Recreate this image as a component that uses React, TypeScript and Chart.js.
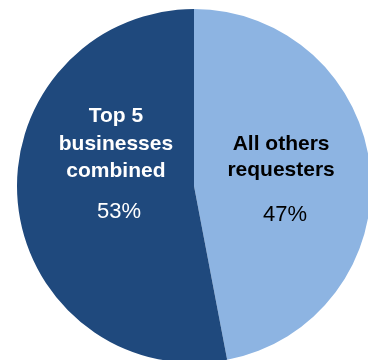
import React, { useEffect, useRef } from "react";
import { Chart, registerables } from "chart.js";

Chart.register(...registerables);

const categories = ["All others requesters", "Top 5 businesses combined"];
const labelLines = [["All others", "requesters"], ["Top 5", "businesses", "combined"]];
const values = [47, 53];
const percentLabels = ["47%", "53%"];
const colors = ["#8DB4E2", "#1F497D"];
const textColors = ["#000000", "#ffffff"];

// label placement relative to pie centre, as fractions of the radius
const labelPlacement = [
  { x: 0.492, lineYs: [-0.203, -0.056], pctX: 0.514, pctY: 0.198 },
  { x: -0.441, lineYs: [-0.363, -0.203, -0.053], pctX: -0.424, pctY: 0.181 },
];

const labelPlugin = {
  id: "sliceLabels",
  afterDatasetsDraw(chart: any) {
    const ctx = chart.ctx;
    const meta = chart.getDatasetMeta(0);
    meta.data.forEach((arc: any, i: number) => {
      const cx = arc.x;
      const cy = arc.y;
      const r = arc.outerRadius;
      const p = labelPlacement[i];
      ctx.save();
      ctx.fillStyle = textColors[i];
      ctx.textAlign = "center";
      ctx.textBaseline = "alphabetic";
      ctx.font = 'bold 21px "Liberation Sans", Arial, sans-serif';
      labelLines[i].forEach((line, j) => {
        ctx.fillText(line, cx + p.x * r, cy + p.lineYs[j] * r);
      });
      ctx.font = '22px "Liberation Sans", Arial, sans-serif';
      ctx.fillText(percentLabels[i], cx + p.pctX * r, cy + p.pctY * r);
      ctx.restore();
    });
  },
};

export default function App() {
  const ref = useRef<HTMLCanvasElement>(null);
  useEffect(() => {
    if (!ref.current) return;
    const chart = new Chart(ref.current, {
      type: "pie",
      data: {
        labels: categories,
        datasets: [
          {
            data: values,
            backgroundColor: colors,
            borderWidth: 0,
            hoverOffset: 0,
            offset: 0,
          },
        ],
      },
      options: {
        responsive: false,
        animation: false,
        devicePixelRatio: 1,
        layout: { padding: { left: 17, top: 9, right: 9, bottom: 9 } },
        plugins: {
          legend: { display: false },
          tooltip: { enabled: false },
        },
      },
      plugins: [labelPlugin],
    });
    return () => chart.destroy();
  }, []);
  return (
    <div
      style={{
        position: "fixed",
        left: 0,
        top: 0,
        width: 368,
        height: 360,
        overflow: "hidden",
        background: "#ffffff",
      }}
    >
      <canvas ref={ref} width={380} height={372} style={{ display: "block", width: 380, height: 372 }} />
    </div>
  );
}
